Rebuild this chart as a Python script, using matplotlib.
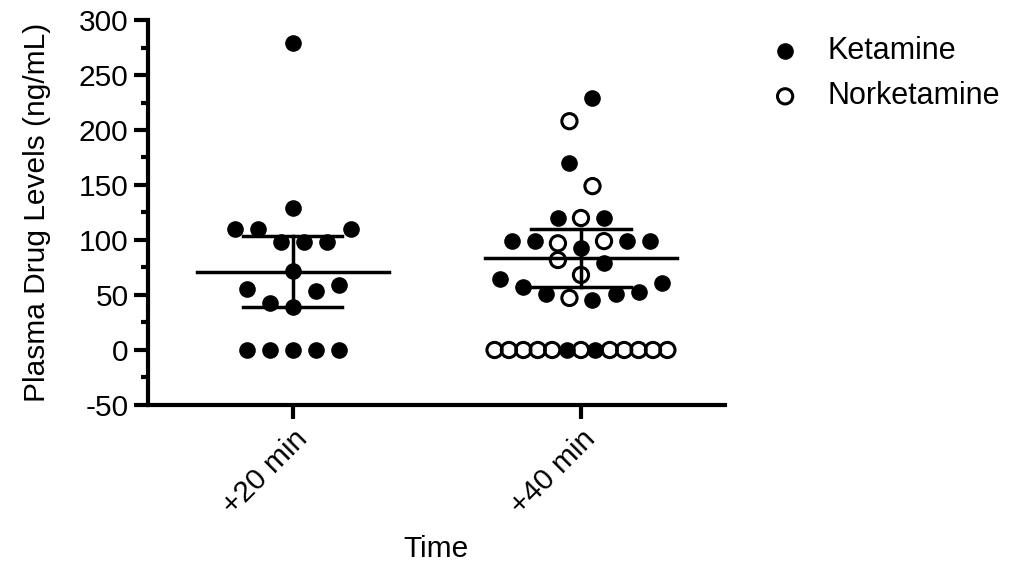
import numpy as np
import matplotlib.pyplot as plt

plt.rcParams['font.family'] = ['Liberation Sans', 'DejaVu Sans']
plt.rcParams['axes.unicode_minus'] = False

time_labels = ['+20 min', '+40 min']

# +20 min: ketamine only (ng/mL), listed row by row, left to right
ketamine_20 = [0, 0, 0, 0, 0,
               55.2, 42.5, 38.8, 53.6, 59.1,
               72.1,
               109.7, 109.7, 98.5, 98.5, 98.5, 109.7,
               129.4, 278.8]

# +40 min: both drugs, same ordering; K = ketamine, N = norketamine
plasma_40 = [0, 0, 0, 0, 0, 0, 0, 0, 0, 0, 0, 0, 0,
             64.5, 57.3, 50.9, 47.3, 45.5, 50.9, 52.7, 61,
             81.8, 68.2, 79,
             99, 99, 97, 92.7, 99, 99, 99,
             120, 120, 120,
             170, 149,
             208, 229]
drug_40 = ['N', 'N', 'N', 'N', 'N', 'K', 'N', 'K', 'N', 'N', 'N', 'N', 'N',
           'K', 'K', 'K', 'N', 'K', 'K', 'K', 'K',
           'N', 'N', 'K',
           'K', 'K', 'N', 'K', 'N', 'K', 'K',
           'K', 'N', 'K',
           'K', 'N',
           'N', 'K']

T_CRIT = 2.101  # t(0.975, df=18), n=19 per group


def swarm_offsets(values, gap=22, step=0.08, max_span=0.6):
    # Prism-like rows: group close values, centre each row
    order = sorted(range(len(values)), key=lambda i: values[i])
    rows, row = [], []
    for i in order:
        if row and values[i] - values[row[0]] > gap:
            rows.append(row)
            row = []
        row.append(i)
    rows.append(row)
    offsets = np.zeros(len(values))
    for row in rows:
        row.sort()
        n = len(row)
        s = step if n < 2 else min(step, max_span / (n - 1))
        for k, i in enumerate(row):
            offsets[i] = (k - (n - 1) / 2) * s
    return offsets


fig = plt.figure(figsize=(10.17, 5.70), dpi=100)
ax = fig.add_axes([0.1455, 0.2895, 0.5674, 0.6754])

mk = dict(s=120, zorder=2, clip_on=False)

x20 = 0 + swarm_offsets(ketamine_20)
ax.scatter(x20, ketamine_20, color='black', label='Ketamine', **mk)

v40 = np.array(plasma_40)
d40 = np.array(drug_40)
x40 = 1 + swarm_offsets(plasma_40)
is_k = d40 == 'K'
ax.scatter(x40[is_k], v40[is_k], color='black', **mk)
ax.scatter(x40[~is_k], v40[~is_k], facecolor='none', edgecolor='black',
           linewidths=2.2, label='Norketamine', **mk)

# mean with 95% CI of ketamine
for xc, vals in [(0, ketamine_20), (1, v40[is_k])]:
    vals = np.asarray(vals, dtype=float)
    m = vals.mean()
    ci = T_CRIT * vals.std(ddof=1) / np.sqrt(len(vals))
    ax.plot([xc - 0.333, xc + 0.333], [m, m], color='black', lw=2.5, zorder=3)
    ax.plot([xc, xc], [m - ci, m + ci], color='black', lw=2.5, zorder=3)
    for yy in (m - ci, m + ci):
        ax.plot([xc - 0.172, xc + 0.172], [yy, yy], color='black', lw=2.5, zorder=3)

ax.set_xlim(-0.503, 1.5)
ax.set_ylim(-50, 300)
ax.set_yticks(np.arange(-50, 301, 50))
ax.set_yticks(np.arange(-50, 301, 25), minor=True)
ax.set_xticks([0, 1])
ax.set_xticklabels(time_labels, rotation=45, ha='right', rotation_mode='anchor')

for side in ['top', 'right']:
    ax.spines[side].set_visible(False)
for side in ['left', 'bottom']:
    ax.spines[side].set_linewidth(3)
ax.tick_params(axis='both', which='major', width=3, length=10, labelsize=21.5, pad=4)
ax.tick_params(axis='y', which='minor', width=3, length=5)
ax.tick_params(axis='x', which='minor', length=0)

ax.set_ylabel('Plasma Drug Levels (ng/mL)', fontsize=21.5, labelpad=20)
ax.set_xlabel('Time', fontsize=21.5, labelpad=11)

ax.legend(loc='upper left', bbox_to_anchor=(1.03, 0.99), frameon=False,
          fontsize=22, handletextpad=0.4, labelspacing=0.5, borderaxespad=0)

fig.savefig('out.png', dpi=100)
